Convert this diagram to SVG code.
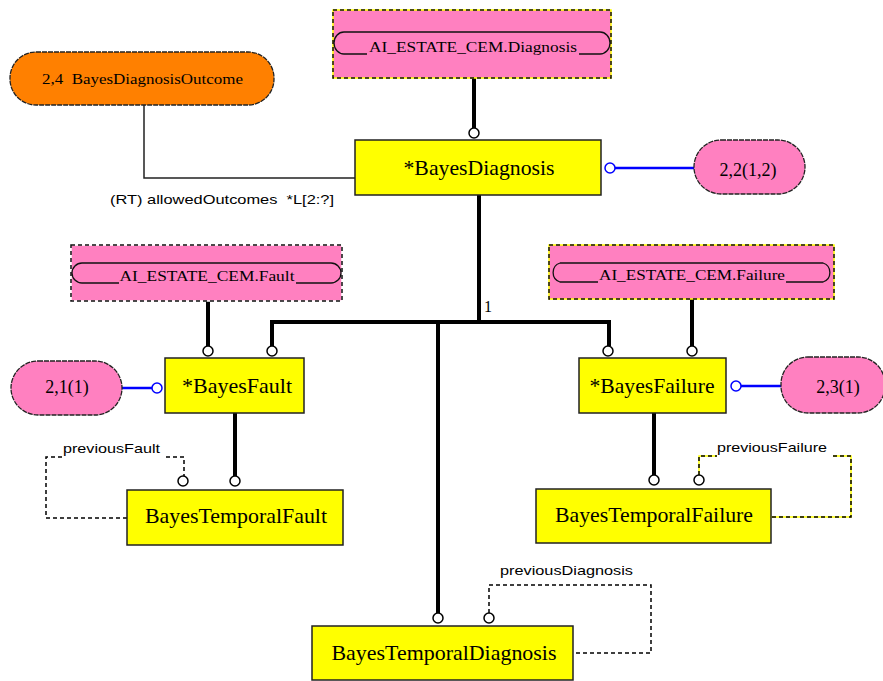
<svg xmlns="http://www.w3.org/2000/svg" width="883" height="681" viewBox="0 0 883 681">
  <style>
    text { white-space: pre; }
    .ent { fill: #ffff00; stroke: #222; stroke-width: 1.5; }
    .ent-t { font-family: "Liberation Serif", serif; font-size: 21px; fill: #000; text-anchor: middle; }
    .ref { fill: #ff80c0; }
    .ref-y { fill: none; stroke: #ffff00; stroke-width: 1.5; }
    .ref-w { fill: none; stroke: #ffffff; stroke-width: 1.5; }
    .ref-d { fill: none; stroke: #111; stroke-width: 1.5; stroke-dasharray: 4 3; }
    .ref-s { fill: none; stroke: #111; stroke-width: 1.3; }
    .ref-t { font-family: "Liberation Serif", serif; font-size: 15px; fill: #000; text-anchor: middle; }
    .pill { fill: #ff80c0; stroke: #222; stroke-width: 1.3; stroke-dasharray: 5 1; }
    .pill-o { fill: #ff8000; stroke: #222; stroke-width: 1.3; stroke-dasharray: 5 1; }
    .pill-t { font-family: "Liberation Serif", serif; font-size: 18px; fill: #000; text-anchor: middle; }
    .thick { fill: none; stroke: #000; stroke-width: 4; }
    .thin { fill: none; stroke: #222; stroke-width: 1.5; }
    .blue { fill: none; stroke: #0000ff; stroke-width: 2.5; }
    .dash { fill: none; stroke: #000; stroke-width: 1.5; stroke-dasharray: 4 3; }
    .dash-y { fill: none; stroke: #ffff00; stroke-width: 1.5; }
    .lbl { font-family: "Liberation Sans", sans-serif; font-size: 13.5px; fill: #000; }
    .c { fill: #fff; stroke: #000; stroke-width: 1.5; }
    .cb { fill: #fff; stroke: #0000ff; stroke-width: 1.5; }
  </style>

  <!-- connectors -->
  <g id="connectors">
    <!-- page reference links -->
    <line class="thick" x1="474" y1="78" x2="474" y2="128"/>
    <line class="thick" x1="208" y1="301" x2="208" y2="346"/>
    <line class="thick" x1="692" y1="299" x2="692" y2="346"/>
    <!-- supertype tree -->
    <line class="thick" x1="479" y1="195" x2="479" y2="322"/>
    <polyline class="thick" points="272,346 272,322 609,322 609,346"/>
    <line class="thick" x1="438" y1="322" x2="438" y2="613"/>
    <text x="484" y="312" font-family="Liberation Serif, serif" font-size="16">1</text>
    <!-- subtype links -->
    <line class="thick" x1="235" y1="413" x2="235" y2="476"/>
    <line class="thick" x1="654" y1="413" x2="654" y2="475"/>
    <!-- allowedOutcomes -->
    <polyline class="thin" points="144,105 144,178 355,178"/>
    <text class="lbl" x="110" y="204" textLength="224" lengthAdjust="spacingAndGlyphs">(RT) allowedOutcomes  *L[2:?]</text>
    <!-- blue redeclaration links -->
    <line class="blue" x1="615" y1="168" x2="694" y2="168"/>
    <line class="blue" x1="122" y1="388" x2="152" y2="388"/>
    <line class="blue" x1="741" y1="386" x2="781" y2="386"/>
    <!-- previousFault -->
    <polyline class="dash" points="127,518 46,518 46,457 62,457"/>
    <polyline class="dash" points="166,457 184,457 184,476"/>
    <text class="lbl" x="63" y="453" textLength="97" lengthAdjust="spacingAndGlyphs">previousFault</text>
    <!-- previousFailure -->
    <polyline class="dash-y" points="699,475 699,456 717,456"/>
    <polyline class="dash" points="699,475 699,456 717,456"/>
    <polyline class="dash-y" points="833,456 851,456 851,517 765,517"/>
    <polyline class="dash" points="833,456 851,456 851,517 765,517"/>
    <text class="lbl" x="717" y="452" textLength="110" lengthAdjust="spacingAndGlyphs">previousFailure</text>
    <!-- previousDiagnosis -->
    <polyline class="dash" points="489,613 489,585 651,585 651,653 567,653"/>
    <text class="lbl" x="500" y="575" textLength="133" lengthAdjust="spacingAndGlyphs">previousDiagnosis</text>
    <!-- end circles -->
    <circle class="c" cx="474" cy="133" r="5"/>
    <circle class="c" cx="208" cy="351" r="5"/>
    <circle class="c" cx="272" cy="351" r="5"/>
    <circle class="c" cx="608" cy="351" r="5"/>
    <circle class="c" cx="692" cy="351" r="5"/>
    <circle class="c" cx="235" cy="481" r="5"/>
    <circle class="c" cx="183" cy="481" r="5"/>
    <circle class="c" cx="654" cy="480" r="5"/>
    <circle class="c" cx="699" cy="480" r="5"/>
    <circle class="c" cx="438" cy="618" r="5"/>
    <circle class="c" cx="489" cy="618" r="5"/>
    <circle class="cb" cx="610" cy="168" r="5"/>
    <circle class="cb" cx="157" cy="388" r="5"/>
    <circle class="cb" cx="736" cy="386" r="5"/>
  </g>

  <!-- page references -->
  <g id="ref-diagnosis">
    <rect class="ref" x="333" y="10" width="278" height="68"/>
    <rect class="ref-y" x="333" y="10" width="278" height="68"/>
    <rect class="ref-d" x="333" y="10" width="278" height="68"/>
    <path class="ref-s" d="M344,32 H600 A10,11 0 0 1 600,54 H579 M367,54 H344 A10,11 0 0 1 344,32"/>
    <text class="ref-t" x="473" y="52" textLength="208" lengthAdjust="spacingAndGlyphs">AI_ESTATE_CEM.Diagnosis</text>
  </g>

  <g id="ref-fault">
    <rect class="ref" x="71" y="245" width="271" height="56"/>
    <rect class="ref-w" x="71" y="245" width="271" height="56"/>
    <rect class="ref-d" x="71" y="245" width="271" height="56"/>
    <path class="ref-s" d="M82,263 H331 A10,10 0 0 1 331,283 H296 M119,283 H82 A10,10 0 0 1 82,263"/>
    <text class="ref-t" x="207" y="281" textLength="175" lengthAdjust="spacingAndGlyphs">AI_ESTATE_CEM.Fault</text>
  </g>

  <g id="ref-failure">
    <rect class="ref" x="549" y="245" width="285" height="54"/>
    <rect class="ref-y" x="549" y="245" width="285" height="54"/>
    <rect class="ref-d" x="549" y="245" width="285" height="54"/>
    <path class="ref-s" d="M560,263 H823 A10,10 0 0 1 823,282 H786 M598,282 H560 A10,10 0 0 1 560,263"/>
    <text class="ref-t" x="692" y="280" textLength="186" lengthAdjust="spacingAndGlyphs">AI_ESTATE_CEM.Failure</text>
  </g>

  <!-- select / constraint pills -->
  <g id="outcome">
    <rect class="pill-o" x="10" y="52" width="264" height="53" rx="26" ry="26"/>
    <text x="42" y="84" font-family="Liberation Serif, serif" font-size="14" textLength="201" lengthAdjust="spacingAndGlyphs">2,4  BayesDiagnosisOutcome</text>
  </g>

  <g id="rule-diagnosis">
    <rect class="pill" x="694" y="140" width="111" height="54" rx="27" ry="27"/>
    <text class="pill-t" x="748" y="176">2,2(1,2)</text>
  </g>

  <g id="rule-fault">
    <rect class="pill" x="11" y="361" width="111" height="54" rx="27" ry="27"/>
    <text class="pill-t" x="67" y="393">2,1(1)</text>
  </g>

  <g id="rule-failure">
    <rect class="pill" x="781" y="357" width="104" height="56" rx="27" ry="27"/>
    <text class="pill-t" x="838" y="393">2,3(1)</text>
  </g>

  <!-- entities -->
  <g id="BayesDiagnosis">
    <rect class="ent" x="355" y="140" width="246" height="55"/>
    <text class="ent-t" x="479" y="175" textLength="151" lengthAdjust="spacingAndGlyphs">*BayesDiagnosis</text>
  </g>

  <g id="BayesFault">
    <rect class="ent" x="165" y="358" width="139" height="55"/>
    <text class="ent-t" x="237" y="393" textLength="110" lengthAdjust="spacingAndGlyphs">*BayesFault</text>
  </g>

  <g id="BayesFailure">
    <rect class="ent" x="579" y="358" width="147" height="55"/>
    <text class="ent-t" x="652" y="393" textLength="125" lengthAdjust="spacingAndGlyphs">*BayesFailure</text>
  </g>

  <g id="BayesTemporalFault">
    <rect class="ent" x="127" y="490" width="216" height="55"/>
    <text class="ent-t" x="236" y="523" textLength="182" lengthAdjust="spacingAndGlyphs">BayesTemporalFault</text>
  </g>

  <g id="BayesTemporalFailure">
    <rect class="ent" x="536" y="489" width="235" height="54"/>
    <text class="ent-t" x="654" y="522" textLength="198" lengthAdjust="spacingAndGlyphs">BayesTemporalFailure</text>
  </g>

  <g id="BayesTemporalDiagnosis">
    <rect class="ent" x="312" y="626" width="261" height="54"/>
    <text class="ent-t" x="444" y="660" textLength="225" lengthAdjust="spacingAndGlyphs">BayesTemporalDiagnosis</text>
  </g>
</svg>
